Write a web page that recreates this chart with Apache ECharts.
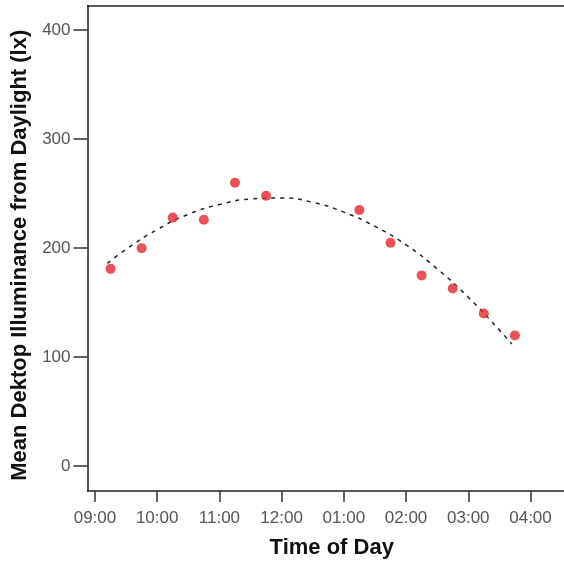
<!DOCTYPE html>
<html>
<head>
<meta charset="utf-8">
<script src="https://cdn.jsdelivr.net/npm/echarts@6/dist/echarts.min.js"></script>
<style>
	html,body{margin:0;padding:0;background:#fff;}
	#chart{width:564px;height:563px;}
</style>
</head>
<body>
<div id="chart"></div>
<script type="text/javascript">
	// 观测时间（小时，24h制）
	var pointHours = [9.25, 9.75, 10.25, 10.75, 11.25, 11.75, 13.25, 13.75, 14.25, 14.75, 15.25, 15.75];
	// 平均照度
	var pointLux = [181, 200, 228, 226, 260, 248, 235, 205, 175, 163, 140, 120];
	// 拟合曲线
	var fitHours = [9.2, 9.5, 10, 10.5, 11, 11.5, 12, 12.5, 13, 13.5, 14, 14.5, 15, 15.5, 15.7];
	var fitLux = [186, 199, 217, 231, 240, 245, 246, 242, 233, 220, 203, 181, 155, 125, 112];
	// 刻度
	var xTicks = [9, 10, 11, 12, 13, 14, 15, 16];
	var yTicks = [0, 100, 200, 300, 400];

	function pairs(xs, ys){
		var out = [];
		for (var i = 0; i < xs.length; i++) out.push([xs[i], ys[i]]);
		return out;
	}
	function hourLabel(h){
		var hh = ((Math.round(h) - 1) % 12) + 1;
		return (hh < 10 ? '0' : '') + hh + ':00';
	}

	var frameLine = {show:true,onZero:false,lineStyle:{color:'#222',width:1.5}};

	var chart = echarts.init(document.getElementById('chart'));
	var option = {
		animation:false,
		grid:{
			left:87.5,
			right:-20,
			top:5.5,
			bottom:72,
			outerBoundsMode:'none',
			containLabel:false,
		},
		xAxis:[{
			type:'value',
			position:'bottom',
			min:8.88,
			max:16.86,
			name:'Time of Day',
			nameLocation:'middle',
			nameGap:46,
			nameTextStyle:{
				color:'#111',
				fontFamily:'Liberation Sans',
				fontWeight:'bold',
				fontSize:22,
				padding:[0,8,0,0],
			},
			axisLine:frameLine,
			splitLine:{show:false},
			axisTick:{
				show:true,
				customValues:xTicks,
				length:11,
				lineStyle:{color:'#333',width:1.5},
			},
			axisLabel:{
				customValues:xTicks,
				formatter:hourLabel,
				color:'#555',
				fontFamily:'Liberation Sans',
				fontSize:17,
				margin:19,
			},
		},{
			// 顶部边框
			type:'value',
			position:'top',
			min:8.88,
			max:16.86,
			axisLine:frameLine,
			axisTick:{show:false},
			axisLabel:{show:false},
			splitLine:{show:false},
		}],
		yAxis:{
			type:'value',
			min:-22.7,
			max:422.5,
			name:'Mean Dektop Illuminance from Daylight (lx)',
			nameLocation:'middle',
			nameRotate:90,
			nameGap:40,
			nameTextStyle:{
				color:'#111',
				fontFamily:'Liberation Sans',
				fontWeight:'bold',
				fontSize:22,
				padding:[0,14,0,0],
			},
			axisLine:frameLine,
			splitLine:{show:false},
			axisTick:{
				show:true,
				customValues:yTicks,
				length:14,
				lineStyle:{color:'#333',width:1.5},
			},
			axisLabel:{
				customValues:yTicks,
				color:'#555',
				fontFamily:'Liberation Sans',
				fontSize:17,
				margin:17,
			},
		},
		series:[{
			type:'line',
			data:pairs(fitHours, fitLux),
			smooth:true,
			showSymbol:false,
			lineStyle:{color:'#222',width:1.5,type:[4,5]},
			z:2,
		},{
			type:'scatter',
			data:pairs(pointHours, pointLux),
			symbolSize:10,
			itemStyle:{color:'#e5262f'},
			z:3,
		}],
	};
	chart.setOption(option);
</script>
</body>
</html>
